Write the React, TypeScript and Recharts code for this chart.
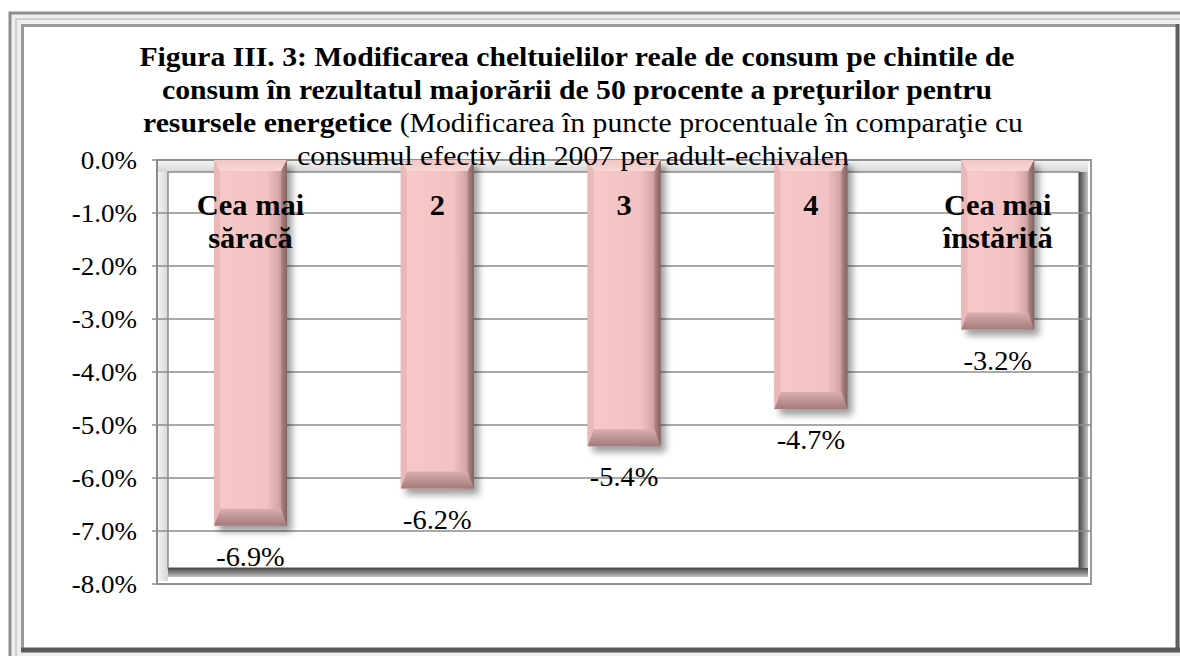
import React from 'react';
import { BarChart, Bar, XAxis, YAxis, CartesianGrid, LabelList } from 'recharts';

// ---------- data ----------
const categories = ['Cea mai\nsăracă', '2', '3', '4', 'Cea mai\nînstărită'];
const changes = [-6.9, -6.2, -5.4, -4.7, -3.2];
const yTicks = [0, -1, -2, -3, -4, -5, -6, -7, -8];
const categoryBoundaryTicks = [1, 2, 3, 4];
const titleBoldLines = [
  'Figura III. 3: Modificarea cheltuielilor reale de consum pe chintile de',
  'consum în rezultatul majorării de 50 procente a preţurilor pentru',
  'resursele energetice',
];
const titleRegularTail = ' (Modificarea în puncte procentuale în comparaţie cu';
const titleLastLine = 'consumul efectiv din 2007 per adult-echivalen';

const data = categories.map((name, i) => ({ name, value: changes[i] }));

// ---------- layout ----------
const W = 1180;
const H = 656;
const PL = 157; // plot left
const PT = 160; // plot top
const PR = 1091; // plot right
const PB = 584; // plot bottom
const SERIF = '"Liberation Serif", "Times New Roman", Times, serif';

const stretch = (cx: number, sx: number) => `translate(${cx} 0) scale(${sx} 1) translate(${-cx} 0)`;

const BevelBar = (props: any) => {
  const { x, y, width, height, index } = props;
  const top = Math.min(y, y + height);
  const h = Math.abs(height);
  const bot = top + h;
  const l = x;
  const r = x + width;
  const s = 6;
  const t = 11;
  const b = 17;
  const id = `bb${index}`;
  return (
    <g>
      <defs>
        <filter id={`${id}sh`} x="-40%" y="-40%" width="180%" height="180%">
          <feGaussianBlur stdDeviation="3.5" />
        </filter>
        <linearGradient id={`${id}face`} x1="0" y1="0" x2="1" y2="0">
          <stop offset="0" stopColor="#e8b6b6" />
          <stop offset="0.1" stopColor="#f6c8c8" />
          <stop offset="0.72" stopColor="#f3c2c2" />
          <stop offset="0.88" stopColor="#d8a8a8" />
          <stop offset="1" stopColor="#9e7777" />
        </linearGradient>
        <linearGradient id={`${id}top`} x1="0" y1="0" x2="0" y2="1">
          <stop offset="0" stopColor="#f0c6c6" />
          <stop offset="1" stopColor="#f8d6d6" />
        </linearGradient>
        <linearGradient id={`${id}bot`} x1="0" y1="0" x2="0" y2="1">
          <stop offset="0" stopColor="#dcaeae" />
          <stop offset="1" stopColor="#a37a7a" />
        </linearGradient>
        <linearGradient id={`${id}rgt`} x1="0" y1="0" x2="1" y2="0">
          <stop offset="0" stopColor="#b08888" />
          <stop offset="1" stopColor="#836161" />
        </linearGradient>
      </defs>
      <rect x={l + 5} y={top + 6} width={width} height={h} fill="#000" opacity={0.38} filter={`url(#${id}sh)`} />
      <rect x={l} y={top} width={width} height={h} fill={`url(#${id}face)`} />
      <polygon points={`${l},${top} ${r},${top} ${r - s},${top + t} ${l + s},${top + t}`} fill={`url(#${id}top)`} />
      <polygon points={`${l},${bot} ${r},${bot} ${r - s},${bot - b} ${l + s},${bot - b}`} fill={`url(#${id}bot)`} />
      <polygon points={`${r},${top} ${r},${bot} ${r - s},${bot - b} ${r - s},${top + t}`} fill={`url(#${id}rgt)`} />
      <polygon points={`${l},${top} ${l},${bot} ${l + s},${bot - b} ${l + s},${top + t}`} fill="#eab8b8" />
    </g>
  );
};

const CategoryLabel = (props: any) => {
  const { x, y, width, height, value } = props;
  const top = Math.min(y, y + height);
  const cx = x + width / 2;
  const lines = String(value).split('\n');
  return (
    <text
      x={cx}
      y={top + 55}
      textAnchor="middle"
      fontWeight="bold"
      fontSize={29}
      fill="#000"
      style={{ fontFamily: SERIF }}
      transform={stretch(cx, 1.05)}
    >
      {lines.map((ln, i) => (
        <tspan key={i} x={cx} dy={i === 0 ? 0 : 33}>
          {ln}
        </tspan>
      ))}
    </text>
  );
};

const ValueLabel = (props: any) => {
  const { x, y, width, height, value } = props;
  const bot = Math.max(y, y + height);
  const cx = x + width / 2;
  return (
    <text
      x={cx}
      y={bot + 40}
      textAnchor="middle"
      fontSize={27}
      fill="#000"
      style={{ fontFamily: SERIF }}
      transform={stretch(cx, 1.05)}
    >
      {`${Number(value).toFixed(1)}%`}
    </text>
  );
};

const YTick = (props: any) => {
  const { x, y, payload } = props;
  return (
    <text
      x={x}
      y={y}
      dy={9}
      textAnchor="end"
      fontSize={26}
      fill="#000"
      style={{ fontFamily: SERIF }}
      transform={stretch(x, 1.04)}
    >
      {`${Number(payload.value).toFixed(1)}%`}
    </text>
  );
};

const Frames = () => {
  const il = PL + 11;
  const it = PT + 12;
  const ir = PR - 12;
  const ib = PB - 16;
  return (
    <svg width={W} height={H} style={{ position: 'absolute', left: 0, top: 0 }}>
      <defs>
        <linearGradient id="darkR" x1="0" y1="0" x2="1" y2="0">
          <stop offset="0" stopColor="#474747" />
          <stop offset="1" stopColor="#c4c4c4" />
        </linearGradient>
        <linearGradient id="darkB" x1="0" y1="0" x2="0" y2="1">
          <stop offset="0" stopColor="#474747" />
          <stop offset="1" stopColor="#c4c4c4" />
        </linearGradient>
        <linearGradient id="lightL" x1="0" y1="0" x2="1" y2="0">
          <stop offset="0" stopColor="#f4f4f4" />
          <stop offset="1" stopColor="#d6d6d6" />
        </linearGradient>
        <linearGradient id="lightT" x1="0" y1="0" x2="0" y2="1">
          <stop offset="0" stopColor="#f4f4f4" />
          <stop offset="1" stopColor="#d6d6d6" />
        </linearGradient>
      </defs>
      <rect x={0} y={0} width={W} height={H} fill="#fff" />
      {/* outer chart frame */}
      <rect x={10} y={13} width={1200} height={700} fill="#eeeeee" stroke="#8e8e8e" strokeWidth={3} />
      <rect x={16} y={19} width={1200} height={700} fill="none" stroke="#cfcfcf" strokeWidth={2} />
      <rect x={22} y={25} width={1155} height={624} fill="#fff" />
      <line x1={22.5} y1={24} x2={22.5} y2={650} stroke="#9a9a9a" strokeWidth={3} />
      <line x1={21} y1={25.5} x2={1178} y2={25.5} stroke="#9a9a9a" strokeWidth={3} />
      <line x1={1177.5} y1={24} x2={1177.5} y2={652} stroke="#5f5f5f" strokeWidth={4} />
      <line x1={21} y1={650} x2={1180} y2={650} stroke="#5a5a5a" strokeWidth={5} />
      {/* plot frame */}
      <rect x={PL} y={PT} width={PR - PL} height={PB - PT} fill="#fff" stroke="#9a9a9a" strokeWidth={2} />
      <rect x={PL + 1} y={PT + 1} width={il - PL - 1} height={PB - PT - 4} fill="url(#lightL)" />
      <rect x={PL + 1} y={PT + 1} width={PR - PL - 4} height={it - PT - 1} fill="url(#lightT)" />
      <rect x={il} y={it} width={ir - il} height={ib - it} fill="#fff" stroke="#8a8a8a" strokeWidth={1.5} />
      <rect x={ir} y={it} width={9} height={ib - it + 9} fill="url(#darkR)" />
      <rect x={il} y={ib} width={ir - il + 9} height={9} fill="url(#darkB)" />
    </svg>
  );
};

const Title = () => (
  <svg width={W} height={H} style={{ position: 'absolute', left: 0, top: 0, pointerEvents: 'none' }}>
    <g fontSize={27} fill="#000" textAnchor="middle" style={{ fontFamily: SERIF }}>
      <text x={577} y={66} fontWeight="bold" transform={stretch(577, 1.1)}>{titleBoldLines[0]}</text>
      <text x={577} y={99} fontWeight="bold" transform={stretch(577, 1.1)}>{titleBoldLines[1]}</text>
      <text x={583} y={132} transform={stretch(583, 1.1)}>
        <tspan fontWeight="bold">{titleBoldLines[2]}</tspan>
        <tspan>{titleRegularTail}</tspan>
      </text>
      <text x={573} y={165} transform={stretch(573, 1.1)}>{titleLastLine}</text>
    </g>
  </svg>
);

export default function App() {
  return (
    <div style={{ position: 'absolute', left: 0, top: 0, width: W, height: H, background: '#fff', overflow: 'hidden' }}>
      <Frames />
      <div style={{ position: 'absolute', left: 0, top: 0 }}>
        <BarChart
          width={W}
          height={H}
          data={data}
          margin={{ top: PT, right: W - PR, bottom: H - PB, left: 0 }}
          barSize={73}
        >
          <CartesianGrid vertical={false} stroke="#8c8c8c" strokeWidth={1.5} />
          <XAxis dataKey="name" hide />
          <XAxis
            xAxisId="bounds"
            type="number"
            orientation="top"
            mirror
            height={0}
            domain={[0, 5]}
            ticks={categoryBoundaryTicks}
            interval={0}
            tick={false}
            tickSize={10}
            axisLine={false}
            tickLine={{ stroke: '#8c8c8c', strokeWidth: 1.5 }}
          />
          <YAxis
            width={PL}
            domain={[-8, 0]}
            ticks={yTicks}
            interval={0}
            allowDataOverflow
            tick={<YTick />}
            tickSize={5}
            tickMargin={15}
            axisLine={{ stroke: '#8c8c8c', strokeWidth: 2 }}
            tickLine={{ stroke: '#8c8c8c', strokeWidth: 1.5 }}
          />
          <Bar dataKey="value" isAnimationActive={false} shape={<BevelBar />}>
            <LabelList dataKey="name" content={<CategoryLabel />} />
            <LabelList dataKey="value" content={<ValueLabel />} />
          </Bar>
        </BarChart>
      </div>
      <Title />
    </div>
  );
}
